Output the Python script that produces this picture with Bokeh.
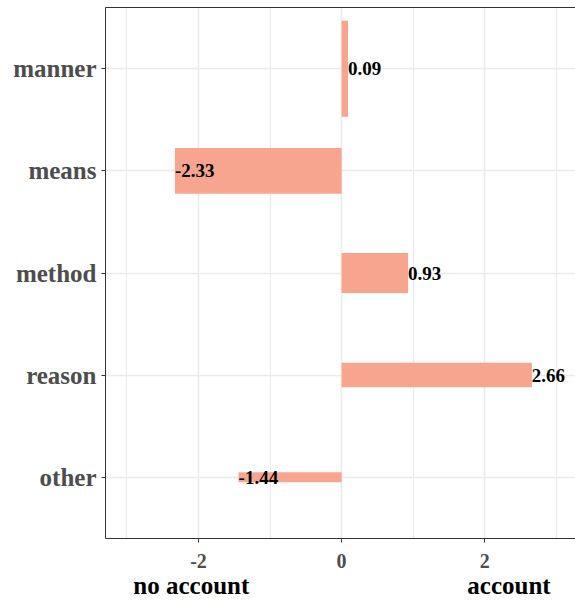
from bokeh.plotting import figure
from bokeh.models import (FactorRange, Range1d, FixedTicker, LinearAxis, ColumnDataSource)
from bokeh.core.properties import value
from bokeh.embed import file_html
from bokeh.resources import INLINE

# ---- data (top to bottom as displayed) ----
categories = ["manner", "means", "method", "reason", "other"]
scores = [0.09, -2.33, 0.93, 2.66, -1.44]
bar_thickness = [0.94, 0.45, 0.39, 0.24, 0.10]
score_labels = ["0.09", "-2.33", "0.93", "2.66", "-1.44"]

x_tick_values = [-2, 0, 2]
x_tick_labels = ["-2", "0", "2"]
x_minor_ticks = [-3, -1, 1, 3]
x_titles = ["no account", "account"]
x_title_positions = [-2.10, 2.34]

FONT = "Liberation Serif"
BAR_COLOR = "#F8A58F"

src = ColumnDataSource(dict(cat=categories, score=scores, h=bar_thickness,
                            lab=score_labels, zero=[0] * len(scores)))

p = figure(
    y_range=FactorRange(factors=list(reversed(categories)),
                        range_padding=0.1, range_padding_units="absolute"),
    x_range=Range1d(-3.30, 3.27),
    width=575, height=600,
    frame_width=470, frame_height=531,
    output_backend="svg", toolbar_location=None,
    min_border_left=105, min_border_right=0, min_border_top=7, min_border_bottom=62,
)
p.outline_line_color = None
p.background_fill_color = "white"
p.border_fill_color = "white"

p.hbar(y="cat", left="zero", right="score", height="h", source=src,
       fill_color=BAR_COLOR, line_color=None)
p.text(x="score", y="cat", text="lab", source=src,
       text_font=value(FONT), text_font_style="bold", text_font_size="19px",
       text_color="black", text_align="left", text_baseline="middle")

# grids
p.xgrid.ticker = FixedTicker(ticks=x_tick_values, minor_ticks=x_minor_ticks)
p.xgrid.grid_line_color = "#EBEBEB"
p.xgrid.grid_line_width = 1.6
p.xgrid.minor_grid_line_color = "#EBEBEB"
p.xgrid.minor_grid_line_width = 1.3
p.ygrid.grid_line_color = "#EBEBEB"
p.ygrid.grid_line_width = 1.6

# x axis
xa = p.xaxis[0]
xa.ticker = FixedTicker(ticks=x_tick_values, minor_ticks=x_minor_ticks)
xa.major_label_overrides = dict(zip(x_tick_values, x_tick_labels))
xa.axis_line_color = "#333333"
xa.major_tick_line_color = "#333333"
xa.major_tick_out = 4
xa.major_tick_in = 0
xa.minor_tick_line_color = None
xa.major_label_text_font = FONT
xa.major_label_text_font_style = "bold"
xa.major_label_text_font_size = "20px"
xa.major_label_text_color = "#4D4D4D"
xa.major_label_standoff = 11

# y axis
ya = p.yaxis[0]
ya.axis_line_color = "#333333"
ya.major_tick_line_color = "#333333"
ya.major_tick_out = 4
ya.major_tick_in = 0
ya.major_label_text_font = FONT
ya.major_label_text_font_style = "bold"
ya.major_label_text_font_size = "25px"
ya.major_label_text_color = "#4D4D4D"
ya.major_label_standoff = 5

# x titles as a second bottom axis
ta = LinearAxis(ticker=FixedTicker(ticks=x_title_positions),
                major_label_overrides=dict(zip(x_title_positions, x_titles)))
ta.axis_line_color = None
ta.major_tick_line_color = None
ta.minor_tick_line_color = None
ta.major_label_text_font = FONT
ta.major_label_text_font_style = "bold"
ta.major_label_text_font_size = "25px"
ta.major_label_text_color = "black"
ta.major_label_standoff = -5
p.add_layout(ta, "below")

# top border line
top = LinearAxis(ticker=FixedTicker(ticks=[]))
top.axis_line_color = "#333333"
top.major_tick_line_color = None
top.minor_tick_line_color = None
top.major_label_text_font_size = "0px"
top.major_label_standoff = 0
p.add_layout(top, "above")

open("out.html", "w").write(file_html(p, INLINE))
